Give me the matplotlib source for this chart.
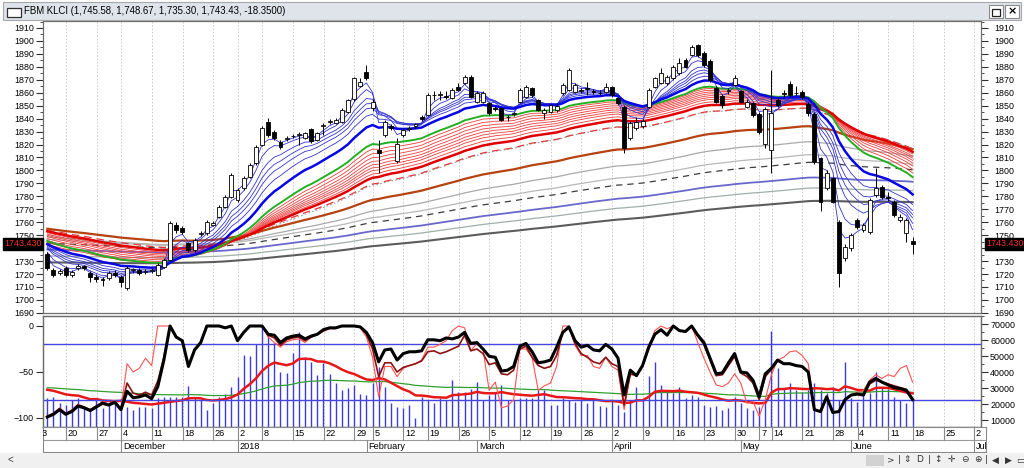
import numpy as np
import pandas as pd
import matplotlib
matplotlib.use("Agg")
import matplotlib.pyplot as plt
import matplotlib.transforms as mtransforms
from matplotlib.patches import Rectangle
from matplotlib.ticker import MultipleLocator, FixedLocator, FuncFormatter

plt.rcParams['font.family'] = ['Liberation Sans', 'DejaVu Sans']

# ---------------- data ----------------
symbol = "FBM KLCI"
holidays = ["2017-12-01", "2017-12-25", "2018-01-01", "2018-01-31", "2018-02-01",
            "2018-02-16", "2018-05-01", "2018-05-09", "2018-05-10", "2018-05-11",
            "2018-05-29", "2018-06-15"]
first_date = "2017-11-14"

open_ = [1735.5, 1723.0, 1721.0, 1724.5, 1719.3, 1725.0, 1726.0, 1720.5, 1717.5, 1716.0,
         1716.7, 1721.0, 1718.0, 1709.0, 1723.0, 1723.0, 1721.5, 1722.5, 1719.3, 1725.7,
         1730.8, 1758.0, 1755.3, 1743.7, 1738.6, 1751.0, 1751.4, 1758.0, 1764.3, 1772.0,
         1779.8, 1777.2, 1786.2, 1795.2, 1805.5, 1819.7, 1837.7, 1830.0, 1822.2, 1824.5,
         1826.3, 1827.5, 1825.0, 1831.7, 1823.5, 1834.0, 1837.5, 1836.4, 1837.7, 1845.4,
         1855.0, 1865.5, 1876.3, 1848.0, 1815.5, 1827.4, 1834.0, 1807.6, 1827.4, 1832.0,
         1834.5, 1841.5, 1842.8, 1858.0, 1858.5, 1857.5, 1855.7, 1864.7, 1867.3, 1872.4,
         1853.1, 1853.1, 1851.8, 1848.5, 1848.0, 1841.0, 1843.5, 1853.1, 1857.0, 1863.4,
         1854.4, 1844.1, 1845.4, 1846.5, 1859.6, 1862.0, 1860.8, 1861.5, 1863.4, 1861.0,
         1860.0, 1860.8, 1864.2, 1855.7, 1849.3, 1824.8, 1832.5, 1834.0, 1849.3, 1864.7,
         1867.3, 1867.3, 1871.1, 1875.0, 1885.3, 1889.1, 1896.5, 1891.0, 1884.5, 1864.0,
         1857.5, 1861.0, 1866.0, 1861.5, 1849.3, 1851.8, 1843.5, 1820.5, 1815.5, 1854.4,
         1859.6, 1866.5, 1859.5, 1860.5, 1851.0, 1843.5, 1809.4, 1786.2, 1793.9, 1760.4,
         1732.1, 1739.9, 1761.7, 1754.0, 1752.7, 1781.0, 1787.5, 1779.5, 1775.9, 1761.7,
         1751.4, 1745.58]
high = [1737, 1725, 1724, 1726, 1723, 1728, 1727, 1722, 1720, 1718,
        1722, 1723, 1719, 1726, 1725, 1724.5, 1724, 1725, 1728.5, 1732,
        1761, 1760, 1757, 1745, 1748, 1753, 1762, 1761, 1773.5, 1781,
        1798, 1786.5, 1795.5, 1805.5, 1820, 1834, 1840.2, 1831.5, 1823.5, 1826.5,
        1828, 1829.5, 1830, 1833, 1830, 1836.5, 1839.5, 1840.5, 1848, 1855.5,
        1872.5, 1871, 1881.4, 1855, 1823.5, 1839, 1836, 1825, 1832.5, 1834.5,
        1837, 1843, 1859.5, 1861, 1861, 1861, 1863.5, 1867.3, 1874, 1873.5,
        1861, 1861, 1853, 1850, 1849.3, 1843, 1845.5, 1863.5, 1866, 1864.5,
        1855.5, 1848, 1851.5, 1852, 1867.5, 1879, 1867.5, 1864, 1868.5, 1863,
        1862, 1867.3, 1865.5, 1857, 1850.5, 1838, 1841.5, 1840, 1863.5, 1872.5,
        1878.8, 1874, 1881.5, 1886.6, 1886.5, 1897, 1898, 1892.5, 1886, 1865.5,
        1859, 1864, 1874, 1862.5, 1855, 1853, 1845, 1849, 1877.6, 1856,
        1862, 1869, 1865, 1862, 1852.5, 1845, 1810.5, 1800.4, 1795, 1762,
        1743, 1752, 1763, 1759.5, 1779, 1801.6, 1789, 1783, 1777, 1766,
        1763, 1748.67]
low = [1723, 1718, 1719, 1718, 1718, 1723, 1723, 1714, 1714, 1711,
       1715, 1718, 1710, 1708, 1721, 1719, 1720, 1721, 1718.5, 1724.5,
       1730, 1752, 1751, 1737, 1737, 1749, 1750, 1757, 1763, 1771,
       1779, 1776, 1785, 1794, 1804.5, 1818.5, 1826, 1823.5, 1816.5, 1823,
       1825, 1820, 1824, 1821.5, 1822.5, 1827, 1836, 1835.5, 1836.5, 1844.5,
       1854, 1864.5, 1870, 1846, 1797.8, 1826, 1831, 1806, 1826, 1830.5,
       1833, 1838.5, 1842, 1854.5, 1854.5, 1855.5, 1855, 1861, 1866.5, 1856,
       1852, 1852, 1843, 1846, 1838, 1838, 1842, 1852, 1856, 1857,
       1846, 1840, 1844.5, 1845, 1858.5, 1861, 1859.5, 1860, 1858.3, 1859,
       1858, 1860, 1857, 1850.5, 1813.2, 1823.5, 1831.5, 1833, 1848, 1863.5,
       1866.5, 1866, 1870, 1874, 1879, 1888, 1887.5, 1880, 1868.5, 1852,
       1848, 1859, 1865, 1852, 1848, 1841.5, 1828, 1817, 1797.8, 1849,
       1857, 1857, 1858, 1855.5, 1842, 1805, 1769, 1785, 1774.5, 1710.3,
       1730, 1738, 1755, 1752.5, 1751, 1779.5, 1778, 1776.5, 1764, 1760,
       1744.6, 1735.30]
close = [1724.5, 1719.5, 1722.0, 1719.5, 1721.8, 1726.0, 1724.5, 1718.0, 1716.5, 1715.0,
         1720.5, 1719.5, 1714.0, 1724.5, 1723.5, 1720.5, 1722.5, 1723.0, 1727.0, 1730.8,
         1759.2, 1754.0, 1752.7, 1738.6, 1746.3, 1751.5, 1760.4, 1759.5, 1772.0, 1779.8,
         1796.5, 1784.9, 1793.9, 1804.2, 1818.4, 1832.5, 1827.4, 1824.8, 1818.4, 1825.0,
         1826.8, 1828.0, 1828.7, 1822.7, 1829.0, 1835.0, 1838.0, 1839.0, 1846.5, 1854.4,
         1871.1, 1868.6, 1871.1, 1853.1, 1813.5, 1837.7, 1832.5, 1820.4, 1831.2, 1833.0,
         1835.5, 1839.5, 1858.3, 1858.5, 1859.0, 1857.0, 1862.1, 1862.1, 1872.4, 1857.0,
         1859.6, 1859.5, 1844.1, 1847.5, 1839.0, 1841.5, 1844.0, 1862.1, 1864.7, 1858.3,
         1847.0, 1846.7, 1850.5, 1850.0, 1866.0, 1877.6, 1866.0, 1862.0, 1863.0, 1860.8,
         1859.6, 1864.7, 1858.3, 1851.8, 1817.1, 1836.4, 1837.7, 1838.5, 1862.1, 1871.1,
         1875.0, 1872.4, 1880.1, 1882.7, 1880.1, 1895.6, 1888.8, 1881.4, 1870.0, 1853.1,
         1850.5, 1862.0, 1871.1, 1853.1, 1853.1, 1842.8, 1829.5, 1847.5, 1844.0, 1850.5,
         1859.0, 1858.3, 1860.0, 1857.0, 1844.0, 1806.5, 1776.0, 1797.8, 1775.9, 1720.6,
         1741.2, 1750.2, 1756.6, 1757.9, 1777.2, 1786.2, 1779.8, 1778.5, 1765.6, 1764.3,
         1761.78, 1743.43]
volume = [23600, 24200, 20400, 19400, 22500, 23600, 17300, 16300, 23600, 17300,
          20400, 20400, 23600, 18300, 16300, 18300, 18300, 17300, 23600, 24600,
          24600, 24600, 24600, 31300, 24600, 22500, 16300, 20400, 24600, 26100,
          30800, 36700, 50600, 50000, 57500, 68800, 63100, 57900, 40200, 39200,
          51700, 65200, 49200, 46500, 38100, 45800, 38800, 33300, 28800, 29800,
          31900, 26300, 25600, 32900, 43300, 30400, 20800, 18300, 17300, 19400,
          11100, 24600, 22500, 20400, 23600, 22500, 35000, 27700, 27700, 29200,
          34000, 22500, 25600, 26700, 31900, 22500, 22500, 23600, 23600, 23600,
          28800, 28800, 19400, 19400, 23600, 22500, 21500, 22500, 20400, 22500,
          18800, 18300, 22500, 19400, 15200, 22500, 30400, 22500, 37500, 46500,
          31900, 27700, 27100, 30400, 23600, 25600, 24600, 19400, 18300, 18800,
          16300, 17300, 24600, 20400, 17300, 16300, 18300, 22500, 65800, 42300,
          29800, 32900, 28800, 27700, 28800, 32900, 28800, 26700, 30800, 22500,
          46500, 23600, 21500, 27700, 26700, 40200, 30800, 29200, 24600, 22500,
          20400, 23600]
wr_black = [-99, -96, -91, -96, -93, -87, -89, -92, -88, -84,
            -86, -83, -91, -71, -78, -77, -75, -79, -66, -37,
            0, -12, -16, -44, -26, -18, 0, 0, 0, -2,
            0, -16, -7, 0, 0, 0, -9, -10, -18, -13,
            -11, -10, -14, -11, -9, -4, -2, -2, 0, 0,
            0, -1, -7, -18, -39, -26, -25, -37, -30, -28,
            -28, -27, -15, -15, -16, -13, -14, -12, -7, -19,
            -18, -25, -33, -34, -49, -48, -44, -22, -19, -28,
            -40, -39, -37, -23, -7, -1, -16, -23, -21, -26,
            -27, -20, -25, -35, -75, -48, -54, -43, -23, -9,
            -4, -10, 0, -5, -6, 0, -10, -18, -35, -52,
            -51, -40, -30, -50, -51, -59, -77, -52, -46, -37,
            -41, -41, -43, -44, -50, -91, -93, -77, -94, -93,
            -80, -75, -74, -75, -61, -57, -61, -64, -67, -68,
            -70, -80]
wr_dark = [-98, -95, -90, -95, -92, -86, -88, -91, -87, -83,
           -85, -82, -90, -62, -73, -75, -72, -75, -60, -34,
           0, -12, -16, -44, -26, -18, 0, 0, 0, -2,
           0, -16, -7, 0, 0, 0, -10, -13, -21, -15,
           -13, -12, -16, -12, -9, -5, -2, -2, 0, 0,
           0, -1, -9, -25, -55, -40, -40, -50, -45, -43,
           -41, -38, -28, -27, -30, -28, -25, -22, -10, -27,
           -25, -30, -42, -40, -52, -53, -48, -25, -22, -34,
           -43, -46, -44, -32, -7, -1, -19, -30, -34, -39,
           -41, -34, -41, -44, -86, -52, -54, -43, -25, -9,
           -4, -10, 0, -5, -6, 0, -11, -20, -37, -54,
           -53, -43, -33, -51, -55, -62, -80, -55, -47, -38,
           -41, -41, -43, -44, -50, -91, -93, -77, -94, -93,
           -80, -75, -74, -75, -63, -59, -61, -63, -65, -67,
           -69, -79]
wr_light = [-99, -95, -89, -95, -91, -85, -88, -91, -87, -82,
            -85, -81, -90, -41, -50, -46, -35, -43, 0, 0,
            0, -12, -16, -44, -26, -18, 0, 0, 0, -2,
            0, -16, -7, 0, 0, 0, -12, -18, -23, -17,
            -15, -14, -18, -12, -9, -6, -3, -3, 0, 0,
            0, -2, -12, -34, -77, -44, -44, -55, -46, -43,
            -41, -37, -23, -23, -20, -16, -5, 0, -2, -27,
            -19, -25, -70, -61, -89, -87, -80, -25, -25, -34,
            -70, -65, -62, -44, 0, 0, -21, -32, -32, -44,
            -46, -34, -44, -48, -91, -53, -53, -44, -23, -5,
            0, -3, 0, -5, -5, 0, -18, -35, -50, -64,
            -66, -62, -52, -62, -84, -82, -98, -80, -53, -37,
            -34, -28, -27, -32, -41, -91, -93, -77, -94, -93,
            -80, -75, -72, -70, -59, -53, -57, -53, -55, -46,
            -43, -61]

# guppy-style EMA ribbons: periods and starting values read at the left edge
short_periods = [3, 5, 8, 10, 12, 15]
short_seeds = [1742, 1743, 1744, 1744, 1744.5, 1745]
short_main_period, short_main_seed = 20, 1745
mid_period, mid_seed = 30, 1747
long_periods = [33, 36, 39, 42, 45, 48, 51, 55]
long_seeds = [1744, 1745.5, 1747, 1748.5, 1750, 1751, 1752, 1753]
long_main_period, long_main_seed = 60, 1754
long_dash_period, long_dash_seed = 70, 1755
trend_periods = [70, 112, 150, 190, 215, 275, 320, 390]
trend_seeds = [1751, 1755.5, 1749, 1747, 1744, 1739, 1734, 1729]
vol_fast_period, vol_fast_seed = 13, 29800
vol_slow_period, vol_slow_seed = 65, 30400
wr_levels = [-20, -80]


def ema(values, period, seed):
    a = 2.0 / (period + 1)
    out, e = [], seed
    for v in values:
        e = e + a * (v - e)
        out.append(e)
    return np.array(out)


# ---------------- layout ----------------
W, H = 1024, 468
fig = plt.figure(figsize=(W / 100, H / 100), dpi=100, facecolor='white')


def rect(l, t, r, b):
    return [l / W, 1 - b / H, (r - l) / W, (b - t) / H]


cal = pd.bdate_range("2017-11-13", "2018-07-13")
cal = cal[~cal.isin(pd.to_datetime(holidays))]
start = cal.get_loc(pd.Timestamp(first_date))
n = len(close)
x = np.arange(start, start + n)
XL = (0.3, 153.15)
TOFF = -0.96

cal_s = pd.Series(np.arange(len(cal)), index=cal)
wk = cal_s.groupby(cal.to_period('W')).first()
week_pos = wk.values + TOFF
week_lab = [str(cal[i].day) for i in wk.values]
mo = cal_s.groupby(cal.to_period('M')).first()
mon_pos = mo.values + TOFF
mon_lab = []
for i in mo.values:
    d = cal[i]
    mon_lab.append(str(d.year) if d.month == 1 else d.strftime('%B'))

grid_kw = dict(color='#c4c4c4', lw=0.6, ls=(0, (2, 2)), zorder=0)
spine_c = '#6e6e6e'
tick_c = '#303030'
last = close[-1]

# ---------------- main price panel ----------------
ax = fig.add_axes(rect(43, 21, 981, 313))
ax.set_xlim(XL)
ax.set_ylim(1689.9, 1915.4)
for p in week_pos:
    ax.axvline(p, **grid_kw)

trend_styles = [dict(color='#a0a0a0', lw=0.8, ls=(0, (1.5, 2))),
                dict(color='#b5420f', lw=1.6, ls='-'),
                dict(color='#a9a9a9', lw=0.9, ls='-'),
                dict(color='#b8b8b8', lw=0.9, ls='-'),
                dict(color='#3c3c3c', lw=0.9, ls=(0, (5, 4))),
                dict(color='#6868cc', lw=1.3, ls='-'),
                dict(color='#9fb0a6', lw=0.9, ls='-'),
                dict(color='#5c5c5c', lw=1.5, ls='-')]
for per, sd, st in zip(trend_periods, trend_seeds, trend_styles):
    ax.plot(x, ema(close, per, sd), zorder=1, **st)

ax.plot(x, ema(close, long_dash_period, long_dash_seed), color='#e23a3a', lw=0.9,
        ls=(0, (6, 4)), zorder=1.5)
for per, sd in zip(long_periods, long_seeds):
    ax.plot(x, ema(close, per, sd), color='#f03c3c', lw=0.6, zorder=1.5)
ax.plot(x, ema(close, long_main_period, long_main_seed), color='#e00000', lw=1.8, zorder=1.6)
ax.plot(x, ema(close, mid_period, mid_seed), color='#22b022', lw=1.4, zorder=1.7)
for per, sd in zip(short_periods, short_seeds):
    ax.plot(x, ema(close, per, sd), color='#3434d4', lw=0.6, zorder=1.8)
ax.plot(x, ema(close, short_main_period, short_main_seed), color='#0606e6', lw=1.8, zorder=1.9)

o = np.array(open_); c = np.array(close); hi = np.array(high); lo = np.array(low)
ax.vlines(x, lo, hi, color='black', lw=0.7, zorder=3)
up = c >= o
body_b = np.minimum(o, c)
body_h = np.maximum(np.abs(c - o), 0.35)
ax.bar(x, body_h, bottom=body_b, width=0.64,
       color=np.where(up, 'white', 'black'), edgecolor='black', lw=0.6, zorder=4)

ax.set_xticks([])
ax.yaxis.set_major_locator(MultipleLocator(10))
ax.yaxis.set_minor_locator(MultipleLocator(5))
ax.yaxis.set_major_formatter(FuncFormatter(lambda v, p: '' if abs(v - last) < 6 else f"{v:.0f}"))
ax.tick_params(axis='y', which='both', left=True, right=True, labelleft=True,
               labelright=True, direction='out', labelsize=6.4, color=tick_c)
ax.tick_params(axis='y', which='major', length=5, pad=1.2)
ax.tick_params(axis='y', which='minor', length=2.5)
for s in ax.spines.values():
    s.set_color(spine_c); s.set_linewidth(0.9)

# right-hand price labels sit a little further out than the left ones
offset = mtransforms.ScaledTranslation(5 / 100, 0, fig.dpi_scale_trans)
for tk in ax.yaxis.get_major_ticks():
    tk.label2.set_transform(tk.label2.get_transform() + offset)

lbl = f"{last:.3f}"
bb = dict(boxstyle='square,pad=0.15', facecolor='black', edgecolor='black')
ax.text(-0.0012, last, lbl, transform=ax.get_yaxis_transform(), ha='right', va='center',
        fontsize=6.4, color='#ff2a2a', bbox=bb, zorder=10, clip_on=False)
ax.text(1.0055, last, lbl, transform=ax.get_yaxis_transform(), ha='left', va='center',
        fontsize=6.4, color='#ff2a2a', bbox=bb, zorder=10, clip_on=False)

# ---------------- lower panel ----------------
axv = fig.add_axes(rect(43, 316, 981, 427))
axw = axv.twinx()
axv.set_xlim(XL)
axv.set_ylim(5625, 75000)
for p in week_pos:
    axv.axvline(p, **grid_kw)
axv.vlines(x, 5625, volume, color='#3a3ae6', lw=1.0, zorder=2)
axv.plot(x, ema(volume, vol_slow_period, vol_slow_seed), color='#2ea02e', lw=0.9, zorder=3)
axv.plot(x, ema(volume, vol_fast_period, vol_fast_seed), color='#e81818', lw=1.8, zorder=3)
axv.set_xticks([])
axv.yaxis.set_ticks_position('right')
axv.yaxis.set_label_position('right')
axv.yaxis.set_major_locator(FixedLocator(np.arange(10000, 70001, 10000)))
axv.yaxis.set_minor_locator(MultipleLocator(5000))
axv.tick_params(axis='y', which='both', direction='out', labelsize=6.4, pad=1.5, color=tick_c,
                left=False, labelleft=False, right=True, labelright=True)
axv.tick_params(axis='y', which='major', length=5)
axv.tick_params(axis='y', which='minor', length=2.5)

axw.set_xlim(XL)
axw.set_ylim(-109.8, 10.87)
axw.yaxis.set_ticks_position('left')
axw.yaxis.set_label_position('left')
for lv in wr_levels:
    axw.axhline(lv, color='#4646e0', lw=1.0, zorder=2)
axw.plot(x, wr_light, color='#ff5252', lw=0.8, zorder=3)
axw.plot(x, wr_dark, color='#8c1212', lw=1.2, zorder=4)
axw.plot(x, wr_black, color='black', lw=2.2, zorder=5)
axw.set_yticks([0, -50, -100])
axw.tick_params(axis='y', direction='out', labelsize=6.4, pad=1.5, length=5, color=tick_c,
                left=True, labelleft=True, right=False, labelright=False)
for a in (axv, axw):
    for s in a.spines.values():
        s.set_color(spine_c); s.set_linewidth(0.9)

# ---------------- date axis ----------------
DR = 986
axd = fig.add_axes(rect(43, 427, DR, 452))
axd.set_xlim(XL[0], XL[0] + (XL[1] - XL[0]) * (DR - 43) / (981 - 43))
axd.set_ylim(0, 2)
axd.axhline(1, color='#9a9a9a', lw=0.8)
for p, lab in zip(week_pos, week_lab):
    axd.plot([p, p], [1, 2], color='#8a8a8a', lw=0.8)
    axd.text(p + 0.28, 1.47, lab, fontsize=6.6, ha='left', va='center', clip_on=True)
for p, lab in zip(mon_pos, mon_lab):
    if p < XL[0]:
        continue
    axd.plot([p, p], [0, 1], color='#8a8a8a', lw=0.8)
    axd.text(p + 0.28, 0.47, lab, fontsize=6.6, ha='left', va='center', clip_on=True)
axd.set_xticks([]); axd.set_yticks([])
for s in axd.spines.values():
    s.set_color('#8a8a8a'); s.set_linewidth(0.8)

# ---------------- window chrome ----------------
fig.patches.append(Rectangle((3 / W, 1 - 20 / H), 1018 / W, 18 / H, transform=fig.transFigure,
                             facecolor='#dfe4eb', edgecolor='#a8a8a8', lw=0.8, zorder=0))
fig.patches.append(Rectangle((7 / W, 1 - 17 / H), 14 / W, 9 / H, transform=fig.transFigure,
                             facecolor='white', edgecolor='#303030', lw=0.9))
title = (f"{symbol} ({open_[-1]:,.2f}, {high[-1]:,.2f}, {low[-1]:,.2f}, {close[-1]:,.2f}, "
         f"{close[-1] - close[-2]:.4f})")
fig.text(24 / W, 1 - 11 / H, title, fontsize=6.9, va='center', ha='left')
for bx in (989, 1005):
    fig.patches.append(Rectangle((bx / W, 1 - 18 / H), 14 / W, 13 / H, transform=fig.transFigure,
                                 facecolor='white', edgecolor='#8a8a8a', lw=0.8))
fig.patches.append(Rectangle((992 / W, 1 - 15.5 / H), 8 / W, 7 / H, transform=fig.transFigure,
                             facecolor='white', edgecolor='#202020', lw=0.9))
fig.text(1012 / W, 1 - 11.5 / H, "×", fontsize=8, va='center', ha='center', color='black',
         fontweight='bold', family=['DejaVu Sans'])
fig.patches.append(Rectangle((0, 0), 1, 15 / H, transform=fig.transFigure,
                             facecolor='#f0f0f0', edgecolor='none'))
fig.text(8 / W, 8 / H, "<", fontsize=7, va='center', color='#404040')
fig.patches.append(Rectangle((866 / W, 2 / H), 18 / W, 11 / H, transform=fig.transFigure,
                             facecolor='#d2d2d2', edgecolor='none'))
icons = [(891, ">"), (899, "|"), (907, "⇕"), (920, "D"), (929, "|"), (938, "↕"),
         (951, "✛"), (965, "⊖"), (978, "⊕"), (986, "|"), (995, "◀"), (1008, "▶"), (1020, "▭")]
for px, g in icons:
    fig.text(px / W, 8 / H, g, fontsize=6.5, va='center', ha='center', color='#333333',
             family=['DejaVu Sans'])

fig.savefig("out.png", dpi=100, facecolor=fig.get_facecolor())
